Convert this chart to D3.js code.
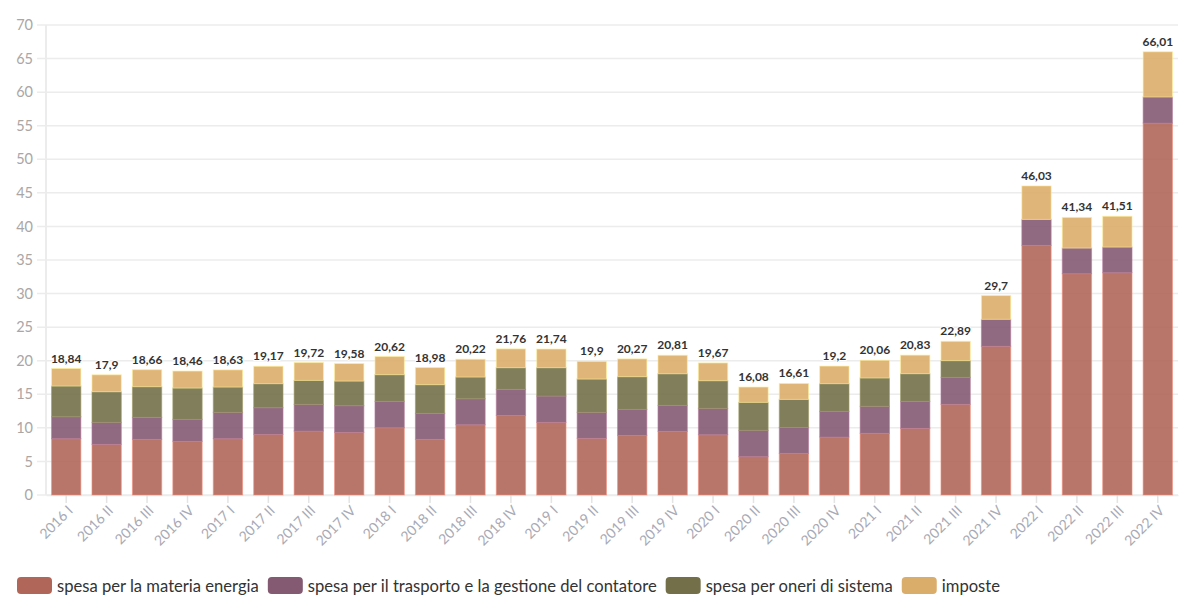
<!DOCTYPE html>
<html>
<head>
<meta charset="utf-8">
<script src="https://cdn.jsdelivr.net/npm/d3@7"></script>
<style>
  html, body { margin: 0; padding: 0; background: #fff; }
  body { font-family: Lato, "Noto Sans", sans-serif; }
  #chart svg { display: block; }
</style>
</head>
<body>
<div id="chart"></div>
<script>
// quarters shown on the x axis
const quarters = [
  "2016 I", "2016 II", "2016 III", "2016 IV",
  "2017 I", "2017 II", "2017 III", "2017 IV",
  "2018 I", "2018 II", "2018 III", "2018 IV",
  "2019 I", "2019 II", "2019 III", "2019 IV",
  "2020 I", "2020 II", "2020 III", "2020 IV",
  "2021 I", "2021 II", "2021 III", "2021 IV",
  "2022 I", "2022 II", "2022 III", "2022 IV"
];

// c€/kWh per component
const materiaEnergia = [8.39, 7.54, 8.29, 7.99, 8.39, 9.03, 9.53, 9.33, 10.02, 8.29, 10.47, 11.86, 10.82, 8.44,
  8.88, 9.48, 8.98, 5.71, 6.20, 8.64, 9.19, 9.93, 13.51, 22.15, 37.18, 32.96, 33.11, 55.40];
const trasporto = [3.27, 3.28, 3.27, 3.28, 3.92, 3.97, 3.97, 3.97, 3.93, 3.87, 3.87, 3.87, 3.92, 3.87,
  3.87, 3.87, 3.92, 3.92, 3.87, 3.82, 4.02, 4.02, 4.02, 4.02, 3.87, 3.82, 3.82, 3.88];
const oneri = [4.57, 4.56, 4.57, 4.66, 3.77, 3.58, 3.57, 3.67, 3.97, 4.27, 3.23, 3.23, 4.22, 4.96,
  4.87, 4.71, 4.12, 4.17, 4.17, 4.12, 4.22, 4.12, 2.48, 0, 0, 0, 0, 0];
const imposte = [2.61, 2.52, 2.53, 2.53, 2.55, 2.59, 2.65, 2.61, 2.70, 2.55, 2.65, 2.80, 2.78, 2.63,
  2.65, 2.75, 2.65, 2.28, 2.37, 2.62, 2.63, 2.76, 2.88, 3.53, 4.98, 4.56, 4.58, 6.73];

const seriesNames = [
  "spesa per la materia energia",
  "spesa per il trasporto e la gestione del contatore",
  "spesa per oneri di sistema",
  "imposte"
];
const seriesColors = ["#b0675a", "#835a72", "#737049", "#dbad6a"];
const yTicks = [0, 5, 10, 15, 20, 25, 30, 35, 40, 45, 50, 55, 60, 65, 70];

const width = 1201;
const height = 614;
const margin = { top: 25, right: 23, bottom: 119, left: 46 };

const it = d3.formatLocale({ decimal: ",", thousands: ".", grouping: [3], currency: ["€", ""] });
const fmtTotal = it.format(".2~f");

// build rows for the stack
const keys = ["energia", "trasporto", "oneri", "imposte"];
const rows = quarters.map((q, i) => ({
  quarter: q,
  energia: materiaEnergia[i],
  trasporto: trasporto[i],
  oneri: oneri[i],
  imposte: imposte[i]
}));
rows.forEach(d => {
  d.total = Math.round((d.energia + d.trasporto + d.oneri + d.imposte) * 100) / 100;
});

const stacked = d3.stack().keys(keys)(rows);

const svg = d3.select("#chart")
  .append("svg")
  .attr("width", width)
  .attr("height", height);

const x = d3.scaleBand()
  .domain(quarters)
  .range([margin.left, width - margin.right])
  .paddingInner(0.25)
  .paddingOuter(0.125);

const y = d3.scaleLinear()
  .domain([0, 70])
  .range([height - margin.bottom, margin.top]);

// grid lines
svg.append("g")
  .selectAll("line")
  .data(yTicks)
  .join("line")
  .attr("x1", margin.left - 9)
  .attr("x2", width - margin.right)
  .attr("y1", d => y(d))
  .attr("y2", d => y(d))
  .attr("stroke", "#ececec")
  .attr("stroke-width", 1.5);

// y labels
svg.append("g")
  .selectAll("text")
  .data(yTicks)
  .join("text")
  .attr("x", margin.left - 13)
  .attr("y", d => y(d))
  .attr("dy", "0.35em")
  .attr("text-anchor", "end")
  .attr("font-size", 14.5)
  .attr("fill", "#aaa6a6")
  .text(d => d);

// vertical axis line
svg.append("line")
  .attr("x1", margin.left)
  .attr("x2", margin.left)
  .attr("y1", margin.top)
  .attr("y2", y(0))
  .attr("stroke", "#ececec")
  .attr("stroke-width", 2);

// x axis
const xAxis = svg.append("g")
  .attr("transform", `translate(0, ${y(0)})`)
  .call(d3.axisBottom(x).tickSize(8).tickSizeOuter(0));

xAxis.select(".domain").attr("stroke", "#ececec").attr("stroke-width", 1.5);
xAxis.selectAll(".tick line").attr("stroke", "#e4e4e4").attr("stroke-width", 1.5);
xAxis.selectAll(".tick text")
  .attr("font-family", "Lato, 'Noto Sans', sans-serif")
  .attr("font-size", 14)
  .attr("fill", "#a8a9b4")
  .attr("text-anchor", "end")
  .attr("x", 0)
  .attr("y", 0)
  .attr("dy", "0.35em")
  .attr("transform", "translate(4, 13) rotate(-45)");

// bars
svg.append("g")
  .selectAll("g")
  .data(stacked)
  .join("g")
  .attr("fill", (d, i) => seriesColors[i])
  .attr("fill-opacity", 0.9)
  .attr("stroke", (d, i) => d3.color(seriesColors[i]).brighter(0.9))
  .attr("stroke-opacity", 0.6)
  .selectAll("rect")
  .data(d => d.filter(s => s[1] - s[0] > 0))
  .join("rect")
  .attr("x", d => x(d.data.quarter) + 0.5)
  .attr("width", x.bandwidth() - 1)
  .attr("y", d => y(d[1]))
  .attr("height", d => y(d[0]) - y(d[1]));

// totals above bars
svg.append("g")
  .selectAll("text")
  .data(rows)
  .join("text")
  .attr("x", d => x(d.quarter) + x.bandwidth() / 2)
  .attr("y", d => y(d.total) - 6)
  .attr("text-anchor", "middle")
  .attr("font-size", 12)
  .attr("font-weight", "bold")
  .attr("fill", "#333")
  .attr("stroke", "#fff")
  .attr("stroke-width", 2)
  .attr("paint-order", "stroke")
  .text(d => fmtTotal(d.total));

// legend
const legend = svg.append("g").attr("transform", "translate(17, 577)");
let lx = 0;
seriesNames.forEach((name, i) => {
  const item = legend.append("g").attr("transform", `translate(${lx}, 0)`);
  item.append("rect")
    .attr("width", 35)
    .attr("height", 17)
    .attr("rx", 4)
    .attr("fill", seriesColors[i]);
  const t = item.append("text")
    .attr("x", 40)
    .attr("y", 14.5)
    .attr("font-size", 16.6)
    .attr("fill", "#333")
    .text(name);
  lx += 40 + t.node().getComputedTextLength() + 9;
});
</script>
</body>
</html>
